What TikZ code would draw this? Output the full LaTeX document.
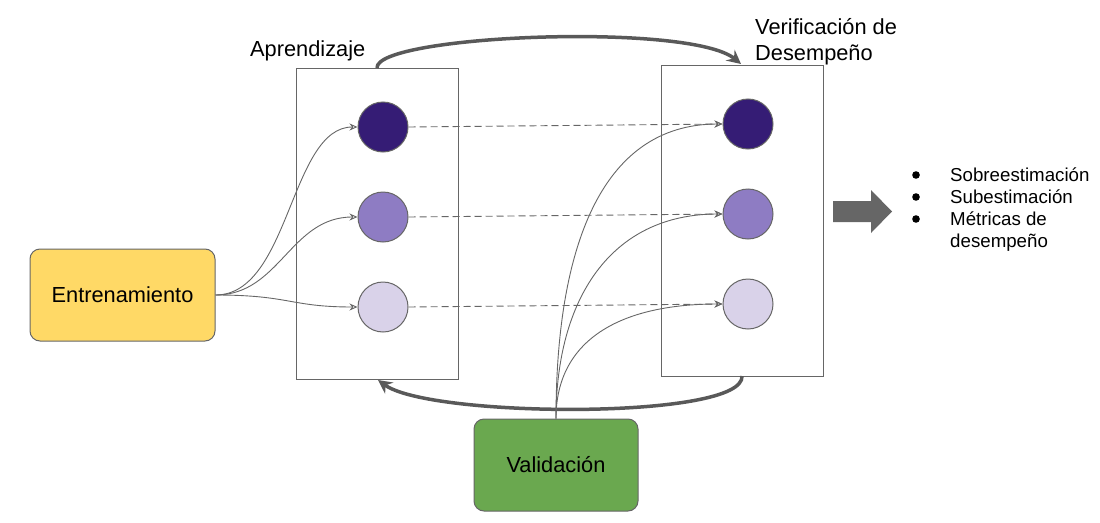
\documentclass[tikz,border=0pt]{standalone}
\usepackage{fontspec}
\setmainfont{Liberation Sans}
\usetikzlibrary{arrows.meta}
\definecolor{cdark}{HTML}{351C75}
\definecolor{cmid}{HTML}{8E7CC3}
\definecolor{clight}{HTML}{D9D2E9}
\definecolor{cyel}{HTML}{FFD966}
\definecolor{cgreen}{HTML}{6AA84F}
\definecolor{cline}{HTML}{595959}
\definecolor{cstroke}{HTML}{666666}
\tikzset{
  panel/.style={draw=cstroke, line width=1pt, minimum width=162pt, minimum height=311pt, inner sep=0pt},
  neuron/.style={circle, draw=cstroke, line width=1pt, minimum size=50pt, inner sep=0pt},
  databox/.style={draw=cstroke, line width=1pt, rounded corners=10pt, minimum width=185pt, minimum height=92pt, inner sep=0pt, font=\fontsize{21.8}{26}\selectfont},
  thin/.style={draw=cstroke, line width=0.9pt, -{Stealth[open, length=8pt, width=7pt]}},
  dashline/.style={draw=cstroke, line width=0.9pt, dash pattern=on 7pt off 4pt, -{Stealth[open, length=8pt, width=7pt]}},
  thick/.style={draw=cline, line width=3.5pt, -{Stealth[length=14pt, width=14pt, inset=5pt]}},
  lbl/.style={font=\fontsize{21.8}{26}\selectfont, inner sep=0pt},
  blt/.style={font=\fontsize{18.7}{22}\selectfont, inner sep=0pt, anchor=base west}
}
\begin{document}
\begin{tikzpicture}[x=1pt,y=-1pt]
\useasboundingbox (0,0) rectangle (1100,522);
% panels
\node[panel] (L) at (377,223.5) {};
\node[panel] (R) at (742,220.5) {};
% labels
\node[lbl, anchor=base west] (la) at (250,56) {Aprendizaje};
\node[lbl, anchor=base west] (lv1) at (755,34) {Verificación de};
\node[lbl, anchor=base west] (lv2) at (755,60) {Desempeño};
% neurons
\node[neuron, fill=cdark] (l1) at (383,127) {};
\node[neuron, fill=cmid] (l2) at (383,217) {};
\node[neuron, fill=clight] (l3) at (383,307) {};
\node[neuron, fill=cdark] (r1) at (748,124) {};
\node[neuron, fill=cmid] (r2) at (748,214) {};
\node[neuron, fill=clight] (r3) at (748,304) {};
% data boxes
\node[databox, fill=cyel] (tr) at (122.5,295) {Entrenamiento};
\node[databox, fill=cgreen, minimum width=164pt] (va) at (556,465) {Validación};
% thick arrows
\coordinate (ltop) at (377,68);
\coordinate (rtop) at (741,64);
\coordinate (rbot) at (742,376);
\coordinate (lbot) at (378,380);
\draw[thick] (ltop) .. controls (375,35) and (690,22) .. (rtop);
\draw[thick] (rbot) .. controls (745,420) and (430,418) .. (lbot);
% training curves
\draw[thin] (tr.east) .. controls (290,295) and (290,127) .. (l1.west);
\draw[thin] (tr.east) .. controls (280,295) and (290,217) .. (l2.west);
\draw[thin] (tr.east) .. controls (290,295) and (290,307) .. (l3.west);
% validation curves
\draw[thin] (va.north) .. controls (556,250) and (600,124) .. (r1.west);
\draw[thin] (va.north) .. controls (556,300) and (610,214) .. (r2.west);
\draw[thin] (va.north) .. controls (556,340) and (620,304) .. (r3.west);
% dashed
\draw[dashline] (l1.east) -- (r1.west);
\draw[dashline] (l2.east) -- (r2.west);
\draw[dashline] (l3.east) -- (r3.west);
% block arrow
\fill[cstroke] (833,201) -- (871,201) -- (871,190) -- (892,211.5) -- (871,233) -- (871,222) -- (833,222) -- cycle;
% bullets
\foreach \yy in {181,203,225}{\fill (916,\yy-6) circle (3.8pt);}
\node[blt] (b1) at (950,181) {Sobreestimación};
\node[blt] (b2) at (950,203) {Subestimación};
\node[blt] (b3) at (950,225) {Métricas de};
\node[blt] (b4) at (950,247) {desempeño};
\end{tikzpicture}
\end{document}
